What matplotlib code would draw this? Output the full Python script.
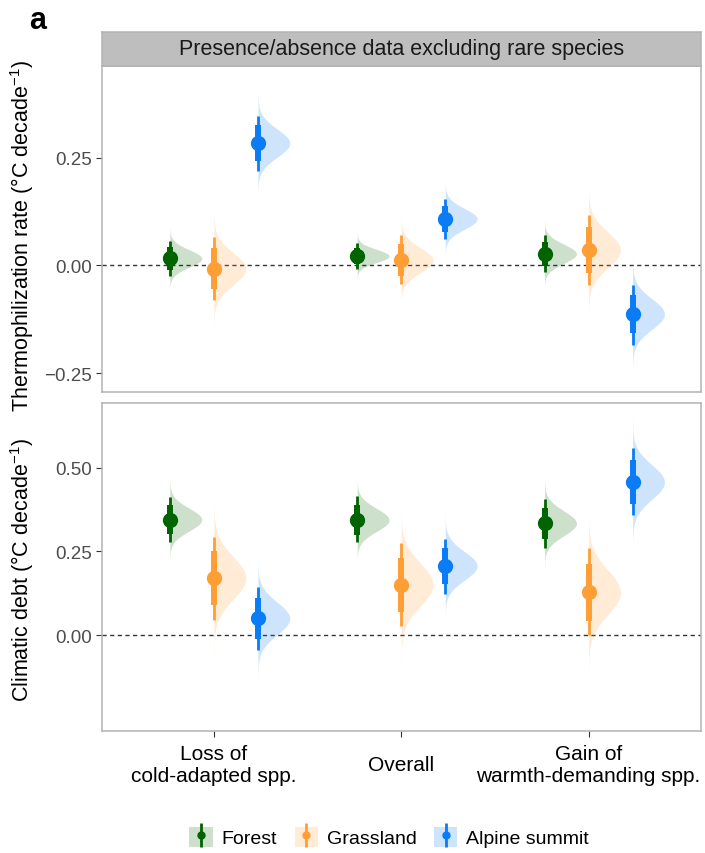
import numpy as np
import matplotlib
matplotlib.use('Agg')
import matplotlib.pyplot as plt
from matplotlib.patches import Patch
from matplotlib.lines import Line2D
from matplotlib.legend_handler import HandlerTuple

plt.rcParams['font.family'] = ['Liberation Sans', 'DejaVu Sans']
plt.rcParams['mathtext.fontset'] = 'custom'
plt.rcParams['mathtext.rm'] = 'Liberation Sans'
plt.rcParams['mathtext.it'] = 'Liberation Sans:italic'
plt.rcParams['axes.unicode_minus'] = True

categories = ['Loss of\ncold-adapted spp.', 'Overall', 'Gain of\nwarmth-demanding spp.']
habitats = ['Forest', 'Grassland', 'Alpine summit']
colors = ['#006400', '#FF9E35', '#0A7CF5']

# rows = habitat, columns = category; median and 95% interval
thermo_median = [[0.016, 0.022, 0.027], [-0.008, 0.012, 0.036], [0.284, 0.108, -0.113]]
thermo_lo = [[-0.024, -0.008, -0.016], [-0.081, -0.043, -0.045], [0.220, 0.061, -0.184]]
thermo_hi = [[0.056, 0.052, 0.071], [0.066, 0.070, 0.118], [0.348, 0.155, -0.045]]

debt_median = [[0.345, 0.344, 0.334], [0.171, 0.151, 0.128], [0.050, 0.207, 0.457]]
debt_lo = [[0.279, 0.279, 0.261], [0.044, 0.028, 0.001], [-0.045, 0.122, 0.358]]
debt_hi = [[0.412, 0.414, 0.406], [0.293, 0.276, 0.261], [0.144, 0.288, 0.559]]

thermo_ticks = [-0.25, 0.0, 0.25]
debt_ticks = [0.0, 0.25, 0.5]

offsets = [-0.235, 0.0, 0.235]
slab_w = 0.17
frame_col = '#B3B3B3'


def draw_panel(ax, med, lo, hi):
    x = np.arange(1, len(categories) + 1)
    ax.axhline(0, color='#333333', lw=1, ls=(0, (3, 2.5)), zorder=1)
    for h, col in enumerate(colors):
        for j in range(len(categories)):
            xp = x[j] + offsets[h]
            m = med[h][j]
            sd = (hi[h][j] - lo[h][j]) / 3.92
            ys = np.linspace(m - 4.0 * sd, m + 4.0 * sd, 300)
            dens = np.exp(-0.5 * ((ys - m) / sd) ** 2)
            ax.fill_betweenx(ys, xp, xp + slab_w * dens, color=col, alpha=0.2, lw=0, zorder=2)
            ax.plot([xp, xp], [lo[h][j], hi[h][j]], color=col, lw=2.0,
                    solid_capstyle='butt', zorder=3)
            ax.plot([xp, xp], [m - 1.27 * sd, m + 1.27 * sd], color=col, lw=4.3,
                    solid_capstyle='butt', zorder=3)
            ax.plot(xp, m, 'o', color=col, ms=11, mec='none', zorder=4)
    ax.set_xlim(0.4, 3.6)
    for s in ax.spines.values():
        s.set_color(frame_col)
        s.set_linewidth(1.1)
    ax.tick_params(axis='y', colors='#333333', labelcolor='#4D4D4D', labelsize=13.5,
                   length=4, width=0.8, pad=3)


fig = plt.figure(figsize=(7.05, 8.54), dpi=100)
W, H = 705, 854
left, right = 101.5 / W, 701 / W

ax1 = fig.add_axes([left, (H - 393) / H, right - left, 326 / H])
ax2 = fig.add_axes([left, (H - 732) / H, right - left, 328 / H])
strip = fig.add_axes([left, (H - 67) / H, right - left, 34 / H])

draw_panel(ax1, thermo_median, thermo_lo, thermo_hi)
draw_panel(ax2, debt_median, debt_lo, debt_hi)

ax1.set_ylim(-0.294, 0.463)
ax2.set_ylim(-0.286, 0.693)
ax1.set_yticks(thermo_ticks)
ax1.set_yticklabels([f'{v:.2f}'.replace('-', '\u2212') for v in thermo_ticks])
ax2.set_yticks(debt_ticks)
ax2.set_yticklabels([f'{v:.2f}' for v in debt_ticks])
ax1.set_xticks([])
ax2.set_xticks(np.arange(1, len(categories) + 1))
ax2.set_xticklabels(categories, fontsize=15, color='black', linespacing=1.2)
ax2.tick_params(axis='x', colors='#333333', labelcolor='black', length=4, width=0.8, pad=20)
for lbl in ax2.get_xticklabels():
    lbl.set_va('center')

strip.set_facecolor('#BEBEBE')
strip.set_xticks([])
strip.set_yticks([])
for s in strip.spines.values():
    s.set_color(frame_col)
    s.set_linewidth(1.1)
strip.text(0.5, 0.5, 'Presence/absence data excluding rare species', ha='center', va='center',
           fontsize=15.5, color='#1A1A1A', transform=strip.transAxes)

fig.text(22 / W, (H - 236) / H, 'Thermophilization rate (°C decade$^{-1}$)', rotation=90,
         ha='center', va='center', fontsize=15.5)
fig.text(22 / W, (H - 570) / H, 'Climatic debt (°C decade$^{-1}$)', rotation=90,
         ha='center', va='center', fontsize=15.5)
fig.text(38 / W, (H - 21) / H, 'a', ha='center', va='center', fontsize=22, fontweight='bold')

handles = []
for col in colors:
    handles.append((Patch(facecolor=col, alpha=0.2, edgecolor='none'),
                    Line2D([], [], marker='|', ms=17, mew=2, color=col, ls='none'),
                    Line2D([], [], marker='o', ms=5, color=col, ls='none')))
fig.legend(handles, habitats, loc='center', bbox_to_anchor=(0.552, (H - 838) / H), ncol=3,
           frameon=False, fontsize=14, handlelength=1.2, handleheight=1.2,
           handletextpad=0.45, columnspacing=0.9,
           handler_map={tuple: HandlerTuple(ndivide=1)})

fig.savefig('out.png', dpi=100)
